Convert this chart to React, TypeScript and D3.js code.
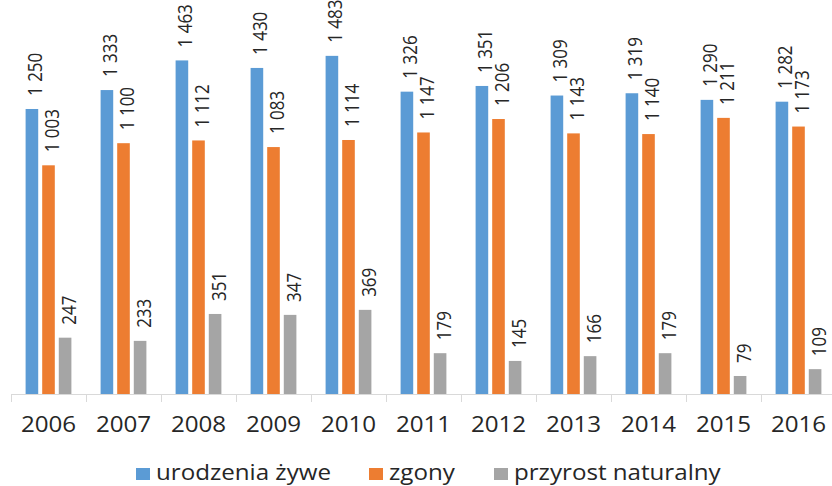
import * as d3 from "d3";

const years = ["2006", "2007", "2008", "2009", "2010", "2011", "2012", "2013", "2014", "2015", "2016"];
const births = [1250, 1333, 1463, 1430, 1483, 1326, 1351, 1309, 1319, 1290, 1282];
const deaths = [1003, 1100, 1112, 1083, 1114, 1147, 1206, 1143, 1140, 1211, 1173];
const growth = [247, 233, 351, 347, 369, 179, 145, 166, 179, 79, 109];

const seriesNames = ["urodzenia żywe", "zgony", "przyrost naturalny"];
const colors = ["#5B9BD5", "#ED7D31", "#A5A5A5"];
const seriesValues = [births, deaths, growth];

const width = 832;
const height = 486;
const baseline = 394;
const stretch = 1.15; // tekst w oryginale jest lekko rozciągnięty w poziomie
const font = "'Open Sans', sans-serif";
const textColor = "#262626";

const fmt = d3
  .formatLocale({ decimal: ",", thousands: " ", grouping: [3], currency: ["", ""] })
  .format(",d");

export default function App() {
  // oś lat
  const x0 = d3.scaleBand().domain(years).range([11, 11 + 75 * years.length]);
  // słupki w obrębie roku
  const x1 = d3
    .scaleBand()
    .domain(seriesNames)
    .range([0, x0.bandwidth()])
    .paddingInner(0.24)
    .paddingOuter(0.88);
  const y = d3.scaleLinear().domain([0, 1728]).range([baseline, 0]);

  const tickXs = years.map((yr) => x0(yr)!).concat([x0.range()[1]]);
  const legendX = [136, 369, 494];

  return (
    <svg
      width={width}
      height={height}
      style={{ position: "absolute", left: 0, top: 0, background: "#fff" }}
      fontFamily={font}
    >
      {/* słupki i etykiety */}
      {years.map((yr, i) => (
        <g key={yr} transform={`translate(${x0(yr)},0)`}>
          {seriesNames.map((s, j) => {
            const v = seriesValues[j][i];
            const bx = x1(s)!;
            const cx = bx + x1.bandwidth() / 2;
            return (
              <g key={s}>
                <rect
                  x={bx}
                  y={y(v)}
                  width={x1.bandwidth()}
                  height={baseline - y(v)}
                  fill={colors[j]}
                />
                <text
                  transform={`translate(${cx + 10.5},${y(v) - 13}) rotate(-90) scale(1,${stretch})`}
                  fontSize={17}
                  fill={textColor}
                >
                  {fmt(v)}
                </text>
              </g>
            );
          })}
        </g>
      ))}

      {/* oś X */}
      <line x1={11} x2={width} y1={baseline + 0.5} y2={baseline + 0.5} stroke="#d9d9d9" />
      {tickXs.map((tx, i) => (
        <line
          key={i}
          x1={tx + 0.5}
          x2={tx + 0.5}
          y1={baseline}
          y2={baseline + 8}
          stroke="#d9d9d9"
        />
      ))}
      {years.map((yr) => (
        <text
          key={yr}
          transform={`translate(${x0(yr)! + x0.bandwidth() / 2},432) scale(${stretch},1)`}
          textAnchor="middle"
          fontSize={21}
          fill={textColor}
        >
          {yr}
        </text>
      ))}

      {/* legenda */}
      {seriesNames.map((s, j) => (
        <g key={s} transform={`translate(${legendX[j]},0)`}>
          <rect x={0} y={468} width={14} height={12} fill={colors[j]} />
          <text
            transform={`translate(20,480) scale(${stretch},1)`}
            fontSize={21}
            fill={textColor}
          >
            {s}
          </text>
        </g>
      ))}
    </svg>
  );
}
